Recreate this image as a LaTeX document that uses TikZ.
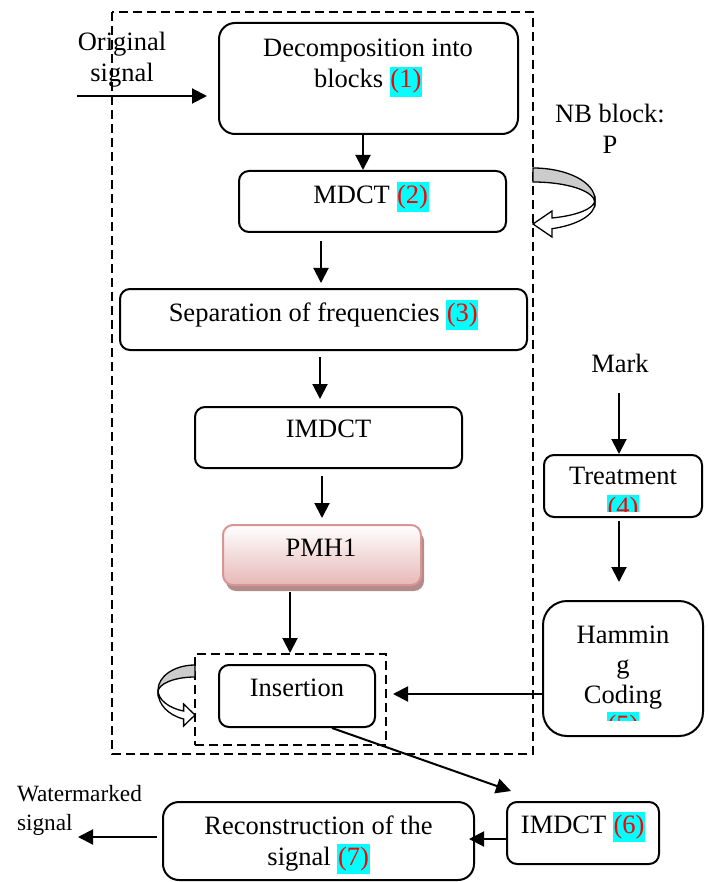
\documentclass[tikz,border=0pt]{standalone}
\usepackage{fontspec}
\setmainfont{Liberation Serif}
\usetikzlibrary{arrows.meta,calc,shadows}
\definecolor{pmhpink}{RGB}{230,184,183}
\definecolor{pmhline}{RGB}{217,149,148}
\definecolor{pmhshade}{RGB}{178,140,139}
\definecolor{numback}{RGB}{0,255,255}
\definecolor{numred}{RGB}{255,0,0}
\newcommand{\stepnum}[1]{{\setlength{\fboxsep}{0.6pt}\colorbox{numback}{\textcolor{numred}{\rule[-0.3em]{0pt}{1.08em}(#1)}}}}

\begin{document}
\begin{tikzpicture}[x=1pt, y=-1pt, line width=2pt,
	every node/.style={inner sep=0pt, font=\fontsize{26.5}{31}\selectfont},
	box/.style={draw, rounded corners=10pt},
	dashbox/.style={draw, dash pattern=on 9pt off 5pt},
	arr/.style={-{Triangle[length=15pt,width=15pt]}},
	turnband/.style={draw, line width=1.3pt, fill=gray!40},
	turnhead/.style={draw, line width=1.3pt, fill=white}]
	\useasboundingbox (0,0) rectangle (707,882);

	% outer frame
	\draw[dashbox] (112,12) rectangle (533,754);

	% blocks inside the frame
	\node[box, rounded corners=16pt, minimum width=299pt, minimum height=111pt] (decomp) at (368.5,78.5) {};
	\node[align=center] (decomp-t) at (368,68) {Decomposition into\\blocks \stepnum{1}};
	\node[box, minimum width=267pt, minimum height=61pt] (mdct) at (372.5,201.5) {};
	\node (mdct-t) at (371,197) {MDCT \stepnum{2}};
	\node[box, minimum width=407pt, minimum height=61pt] (sep) at (323.5,319.5) {};
	\node (sep-t) at (323.5,315) {Separation of frequencies \stepnum{3}};
	\node[box, minimum width=267pt, minimum height=61pt] (imdct) at (328.5,437.5) {};
	\node (imdct-t) at (328.5,429) {IMDCT};
	\node[draw=pmhline, rounded corners=10pt, top color=white, bottom color=pmhpink,
		drop shadow={shadow xshift=3pt, shadow yshift=-6pt, fill=pmhshade, opacity=1},
		minimum width=198pt, minimum height=60pt] (pmh) at (322,555) {};
	\node (pmh-t) at (321,548) {PMH1};
	\node[dashbox, minimum width=191pt, minimum height=91pt] (insframe) at (290.5,699.5) {};
	\node[box, minimum width=156pt, minimum height=62pt] (ins) at (297,696) {};
	\node (ins-t) at (297,688) {Insertion};

	% mark branch
	\node (mark) at (620,363) {Mark};
	\node[box, minimum width=158pt, minimum height=62pt] (treat) at (623,486) {};
	\begin{scope}
		\clip (544,455) rectangle (702,511);
		\node[align=center] (treat-t) at (623,496) {Treatment\\\stepnum{4}};
	\end{scope}
	\node[box, rounded corners=24pt, minimum width=160pt, minimum height=135pt] (hamm) at (623,668.5) {};
	\begin{scope}
		\clip (543,601) rectangle (703,720);
		\node[align=center, font=\fontsize{26.5}{30}\selectfont] (hamm-t) at (623,684) {Hammin\\g\\Coding\\\stepnum{5}};
	\end{scope}

	% output row
	\node[box, rounded corners=16pt, minimum width=311pt, minimum height=78pt] (recon) at (318.5,841) {};
	\node[align=center] (recon-t) at (318.5,844.5) {Reconstruction of the\\signal \stepnum{7}};
	\node[box, minimum width=152pt, minimum height=62pt] (imdct6) at (583,833) {};
	\node (imdct6-t) at (583,827) {IMDCT \stepnum{6}};

	% free labels
	\node[align=center] (orig) at (122,60) {Original\\signal};
	\node[align=center] (nb) at (610,128.5) {NB block:\\P};
	\node[align=left, anchor=west, font=\fontsize{23.3}{29}\selectfont] (wm) at (16,810.5) {Watermarked\\signal};
	\coordinate (orig-in) at (77,96);
	\coordinate (wm-out) at (78,837);

	% connectors
	\draw[arr, shorten >=11pt] (orig-in) -- (decomp.west |- orig-in);
	\draw[arr] (decomp.south -| 363,0) -- (mdct.north -| 363,0);
	\draw[arr, shorten <=8pt, shorten >=5pt] (mdct.south -| 321,0) -- (sep.north -| 321,0);
	\draw[arr, shorten <=6pt, shorten >=7pt] (sep.south -| 320,0) -- (imdct.north -| 320,0);
	\draw[arr, shorten <=7pt, shorten >=6pt] (imdct.south -| 322,0) -- (pmh.north -| 322,0);
	\draw[arr, shorten <=6pt] (pmh.south -| 290,0) -- (insframe.north -| 290,0);
	\draw[arr, shorten <=20pt] (mark.south -| 619,0) -- (treat.north -| 619,0);
	\draw[arr, shorten <=3pt, shorten >=18pt] (treat.south -| 619,0) -- (hamm.north -| 619,0);
	\draw[arr, shorten >=6pt] (hamm.west |- 0,694) -- (insframe.east |- 0,694);
	\draw[arr] ($(ins.south)+(35,0)$) -- ($(imdct6.north west)+(5,-10)$);
	\draw[arr, shorten >=-6pt] (imdct6.west |- 0,839) -- (recon.east |- 0,839);
	\draw[arr, shorten <=5pt] (recon.west |- wm-out) -- (wm-out);

	% loop arrow beside MDCT
	\draw[turnband] (533,168) .. controls (567,168) and (595,182) .. (595,200) -- (595,203)
		.. controls (595,191) and (567,182) .. (533,182) -- cycle;
	\draw[turnhead] (595,203) .. controls (595,214.7) and (577.7,225) .. (552,228.7) -- (552,237)
		-- (533,224) -- (552,211) -- (552,218) .. controls (577.7,215.5) and (595,208.2) .. (595,200) -- cycle;
	% loop arrow beside insertion
	\draw[turnband] (195,665) .. controls (174.6,665) and (158,676.2) .. (158,690) -- (158,692)
		.. controls (158,683.7) and (174.6,677) .. (195,677) -- cycle;
	\draw[turnhead] (158,692) .. controls (158,704.3) and (168.3,715.2) .. (183.6,719) -- (183.6,726)
		-- (195,715) -- (183.6,704) -- (183.6,711) .. controls (168.3,708) and (158,699.5) .. (158,690) -- cycle;
\end{tikzpicture}
\end{document}
